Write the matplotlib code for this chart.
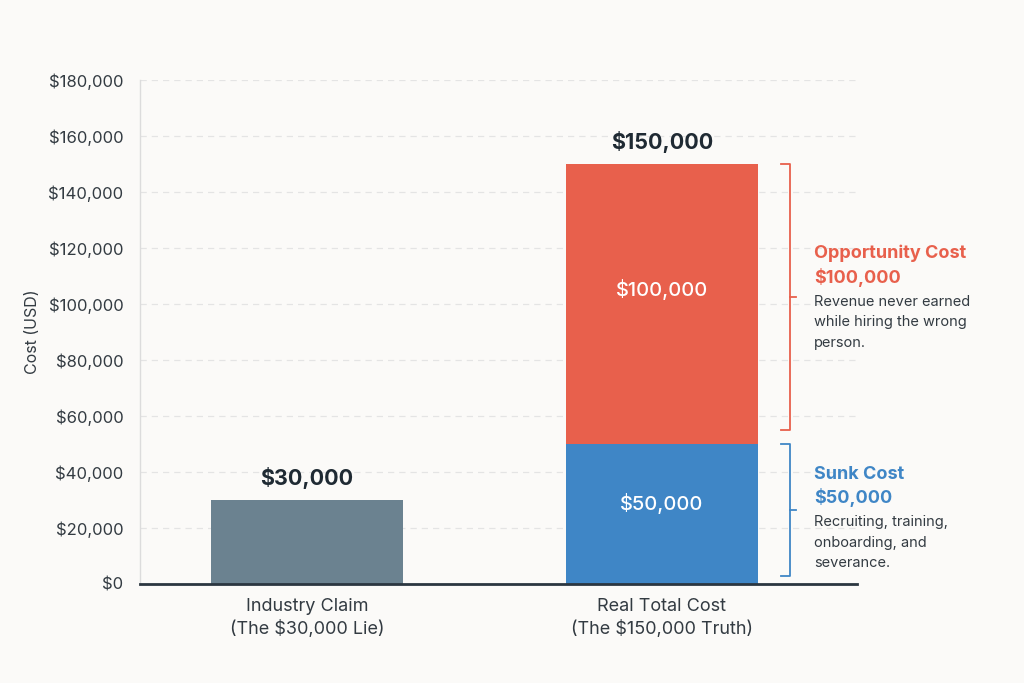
import matplotlib.pyplot as plt
from matplotlib.ticker import FuncFormatter

plt.rcParams['font.family'] = ['Inter', 'DejaVu Sans']

# data
categories = ['Industry Claim\n(The $30,000 Lie)', 'Real Total Cost\n(The $150,000 Truth)']
claim_value = 30000
sunk_cost = 50000
opportunity_cost = 100000
total_cost = sunk_cost + opportunity_cost
y_ticks = list(range(0, 180001, 20000))

bg = '#fbfaf8'
gray = '#6b8290'
red = '#e8604c'
blue = '#3f86c6'
dark = '#1f2a33'
text_gray = '#333b42'

fig = plt.figure(figsize=(10.24, 6.83), dpi=100, facecolor=bg)
ax = fig.add_axes([0.137, 0.145, 0.700, 0.738])
ax.set_facecolor(bg)

w = 0.54
ax.bar(0, claim_value, width=w, color=gray, zorder=3)
ax.bar(1, sunk_cost, width=w, color=blue, zorder=3)
ax.bar(1, opportunity_cost, width=w, bottom=sunk_cost, color=red, zorder=3)

ax.set_xlim(-0.47, 1.55)
ax.set_ylim(0, 180000)
ax.set_yticks(y_ticks)
ax.yaxis.set_major_formatter(FuncFormatter(lambda v, p: f'${v:,.0f}'))
ax.set_xticks([0, 1])
ax.set_xticklabels(categories, fontsize=13, color=text_gray, linespacing=1.35)
ax.tick_params(axis='x', length=0, pad=10)
ax.tick_params(axis='y', length=0, pad=12, labelsize=12, labelcolor=text_gray)
ax.set_ylabel('Cost (USD)', fontsize=11.5, color=text_gray, labelpad=6)

ax.grid(axis='y', linestyle=(0, (5, 4)), color='#e4e4e4', linewidth=0.9, zorder=0)
for s in ['top', 'right']:
    ax.spines[s].set_visible(False)
ax.spines['left'].set_color('#dcdcdc')
ax.spines['left'].set_linewidth(1.0)
ax.spines['bottom'].set_color('#2b3640')
ax.spines['bottom'].set_linewidth(2.0)
ax.spines['bottom'].set_zorder(4)

# value labels
ax.text(0, claim_value + 3800, f'${claim_value:,}', ha='center', va='bottom',
        fontsize=15.5, fontweight='bold', color=dark)
ax.text(1, total_cost + 3800, f'${total_cost:,}', ha='center', va='bottom',
        fontsize=15.5, fontweight='bold', color=dark)
ax.text(1, 105000, f'${opportunity_cost:,}', ha='center', va='center',
        fontsize=14.5, fontweight='medium', color='white', zorder=4)
ax.text(1, 28900, f'${sunk_cost:,}', ha='center', va='center',
        fontsize=14.5, fontweight='medium', color='white', zorder=4)

# brackets
def bracket(y0, y1, color):
    xv = 1.36
    xt = 1.335
    xm = 1.378
    ax.plot([xt, xv, xv, xt], [y1, y1, y0, y0], color=color, lw=1.3, clip_on=False, zorder=3)
    ym = (y0 + y1) / 2
    ax.plot([xv, xm], [ym, ym], color=color, lw=1.3, clip_on=False, zorder=3)

bracket(55000, total_cost, red)
bracket(3000, sunk_cost, blue)

xt = 1.428
ax.text(xt, 118000, 'Opportunity Cost', fontsize=13, fontweight='bold', color=red, va='center')
ax.text(xt, 109500, f'${opportunity_cost:,}', fontsize=13, fontweight='bold', color=red, va='center')
ax.text(xt, 103300, 'Revenue never earned\nwhile hiring the wrong\nperson.', fontsize=10.5,
        color=text_gray, va='top', linespacing=1.6)

ax.text(xt, 39000, 'Sunk Cost', fontsize=13, fontweight='bold', color=blue, va='center')
ax.text(xt, 30700, f'${sunk_cost:,}', fontsize=13, fontweight='bold', color=blue, va='center')
ax.text(xt, 24600, 'Recruiting, training,\nonboarding, and\nseverance.', fontsize=10.5,
        color=text_gray, va='top', linespacing=1.6)

fig.savefig('out.png', dpi=100, facecolor=bg)
